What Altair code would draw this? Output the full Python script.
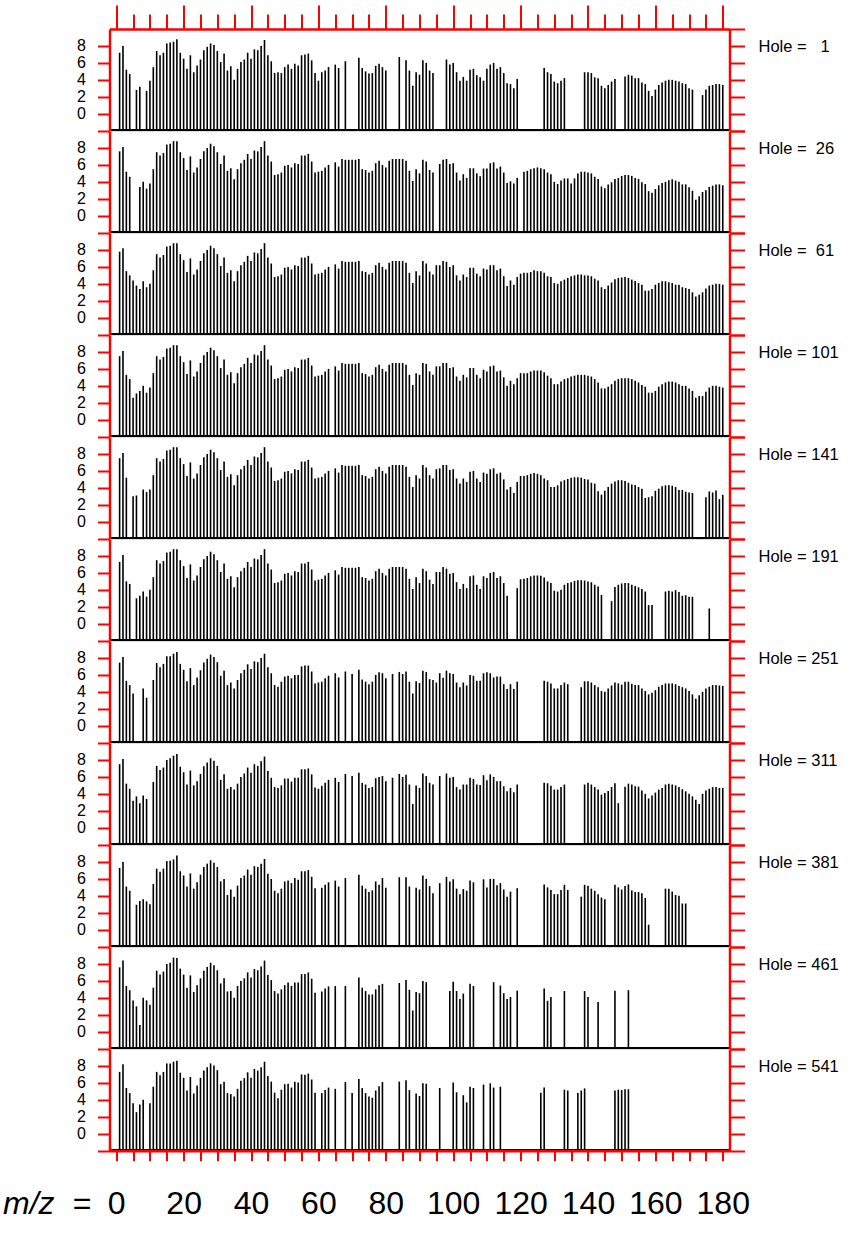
import altair as alt
import pandas as pd

RED = "#ff0000"
FONT = "Liberation Sans"

HOLES = [1, 26, 61, 101, 141, 191, 251, 311, 381, 461, 541]

# Each spectrum: list of runs (first m/z, [log intensity for consecutive m/z])
H101 = [
    (1, [7.5, 8.1, 5.3, 4.8, 2.6, 3.1, 3.4, 4.0, 3.2, 3.8,
         5.5, 7.5, 7.1, 7.4, 8.4, 8.5, 8.8, 8.8, 7.5, 6.8,
         5.4, 7.0, 5.1, 5.7, 6.7, 7.6, 8.0, 8.5, 8.2, 7.5,
         6.1, 7.1, 5.3, 5.6, 4.3, 5.5, 6.2, 6.6, 7.3, 6.7,
         7.7, 7.6, 8.1, 8.8, 7.1, 6.4, 4.8, 4.9, 5.1, 5.9,
         6.0, 5.7, 6.2, 6.1, 7.1, 7.1, 7.3, 6.4, 5.1, 5.2,
         5.3, 5.7, 6.0]),
    (65, [6.3, 5.8, 6.7, 6.6, 6.6, 6.6, 6.6, 6.7, 5.5, 5.4,
          5.1, 5.3, 6.2, 6.5, 6.0, 5.7, 6.5, 6.7, 6.7, 6.7,
          6.7, 6.5, 5.3, 4.1, 5.5, 5.3, 6.7, 6.6, 5.7, 5.3,
          6.3, 6.3, 6.7, 6.7, 6.1, 6.2, 5.1, 4.6, 5.3, 5.0,
          6.1, 6.1, 5.3, 4.9, 5.9, 5.7, 6.3, 6.4, 5.7, 5.8,
          5.0, 4.0, 4.6, 4.2, 4.9, 5.5, 5.5, 5.5, 5.7, 5.8,
          5.8, 5.8, 5.6, 5.2, 4.9, 4.2, 4.2, 4.5, 4.8, 4.9,
          5.1, 5.2, 5.3, 5.3, 5.3, 5.2, 5.1, 4.8, 4.4, 3.7,
          3.7, 3.9, 4.2, 4.6, 4.8, 4.9, 4.9, 4.9, 4.8, 4.6,
          4.4, 4.1, 3.9, 3.2, 3.2, 3.4, 3.9, 4.2, 4.4, 4.5,
          4.5, 4.4, 4.2, 4.0, 4.0, 3.7, 3.4, 2.6, 2.8, 2.8,
          3.3, 3.8, 4.0, 4.0, 3.9, 3.8]),
]

H1 = [
    (1, [7.2, 8.0, 5.2, 4.7]),
    (6, [2.8, 3.2]),
    (9, [2.7, 3.9, 5.5, 7.4, 6.9, 7.2, 8.3, 8.4, 8.5, 8.8,
         7.2, 6.5, 5.3, 6.9, 4.9, 5.7, 6.4, 7.5, 7.9, 8.3,
         8.1, 7.4, 6.1, 7.1, 5.1, 5.6, 4.0, 5.3, 6.1, 6.4,
         7.2, 6.5, 7.6, 7.5, 8.0, 8.7, 6.9, 6.2, 4.8, 4.9,
         4.8, 5.5, 5.8, 5.3, 5.9, 5.7, 6.9, 7.0, 7.1, 6.3,
         4.8, 3.9, 4.9, 5.1, 5.5]),
    (65, [5.8, 5.4]),
    (68, [6.2]),
    (72, [6.6, 5.4, 5.0, 4.75, 4.8, 5.65, 5.9, 5.5, 5.1]),
    (84, [6.7]),
    (86, [6.3, 5.1, 3.3, 4.9, 4.6, 6.3, 6.0, 5.1, 4.8]),
    (98, [6.4, 5.8, 6.0, 4.9, 3.9, 4.35, 3.9, 5.2, 5.3, 4.55,
          4.3, 3.9, 5.3, 5.8, 6.0, 5.3, 5.5, 4.8, 3.6, 3.5,
          3.0, 4.1]),
    (127, [5.4, 4.9, 4.7, 3.8, 3.6, 3.9, 4.2]),
    (139, [4.9, 4.9, 4.8, 4.3, 4.2, 3.3, 3.0, 3.4, 3.8, 4.1]),
    (151, [4.4, 4.6, 4.5, 4.2, 4.2, 3.7, 3.5, 2.7, 2.1, 2.85,
           3.4, 3.7, 3.9, 4.0, 4.0, 3.9, 3.8, 3.6, 3.5, 3.0, 2.85]),
    (174, [2.2, 2.85, 3.3, 3.4, 3.5, 3.5, 3.4]),
]

H26 = [
    (1, [7.6, 8.1, 5.2, 4.6]),
    (7, [3.4, 4.0, 3.2, 3.8, 5.5, 7.5, 7.1, 7.4, 8.4, 8.5,
         8.8, 8.8, 7.5, 6.8, 5.4, 7.0, 5.1, 5.7, 6.7, 7.6,
         8.0, 8.5, 8.2, 7.5, 6.1, 7.1, 5.3, 5.6, 4.3, 5.5,
         6.2, 6.6, 7.3, 6.7, 7.7, 7.6, 8.1, 8.8, 7.1, 6.4,
         4.8, 4.9, 5.1, 5.9, 6.0, 5.7, 6.2, 6.1, 7.1, 7.1,
         7.3, 6.4, 5.1, 5.2, 5.3, 5.7, 6.0]),
    (65, [6.3, 5.8, 6.7, 6.6, 6.6, 6.6, 6.6, 6.7, 5.5, 5.4,
          5.1, 5.3, 6.2, 6.5, 6.0, 5.7, 6.5, 6.7, 6.7, 6.7,
          6.7, 6.5, 5.3, 4.1, 5.5, 5.0, 6.6, 6.4, 5.4, 5.1]),
    (96, [6.1, 6.6, 6.7, 6.1, 6.2, 5.1, 4.15, 4.9, 4.47, 5.6,
          5.6, 5.0, 4.66, 5.57, 5.57, 6.2, 6.3, 5.57, 5.8, 5.1,
          3.87, 4.07, 3.8, 4.47]),
    (121, [5.2, 5.3, 5.5, 5.6, 5.7, 5.6, 5.5, 5.1, 4.9, 4.0,
           3.75, 4.15, 4.4, 4.4, 3.8, 4.4, 5.0, 5.2, 5.2, 5.1,
           5.0, 4.6, 4.35, 3.45, 3.25, 3.7, 3.95, 4.35, 4.45, 4.7,
           4.8, 4.8, 4.7, 4.45, 4.35, 3.95, 3.75, 2.9, 2.7, 3.15,
           3.6, 3.85, 4.0, 4.2, 4.3, 4.15, 4.0, 3.7, 3.7, 3.35,
           2.95, 1.9, 2.3, 2.8, 3.0, 3.4, 3.55, 3.7, 3.7, 3.6]),
]

H61 = [
    (1, [7.8, 8.2, 5.5, 5.0, 4.4, 3.8, 3.4, 4.3, 3.6, 4.0,
         5.6, 7.5, 7.1, 7.4, 8.4, 8.5, 8.8, 8.8, 7.5, 6.8,
         5.4, 7.0, 5.1, 5.7, 6.7, 7.6, 8.0, 8.5, 8.2, 7.5,
         6.1, 7.1, 5.3, 5.6, 4.3, 5.5, 6.2, 6.6, 7.3, 6.7,
         7.7, 7.6, 8.1, 8.8, 7.1, 6.4, 4.8, 4.9, 5.1, 5.9,
         6.0, 5.7, 6.2, 6.1, 7.1, 7.1, 7.3, 6.4, 5.1, 5.2,
         5.3, 5.7, 6.0]),
    (65, [6.3, 5.8, 6.7, 6.6, 6.6, 6.6, 6.6, 6.7, 5.5, 5.4,
          5.1, 5.3, 6.2, 6.5, 6.0, 5.7, 6.5, 6.7, 6.7, 6.7,
          6.7, 6.5, 5.3, 4.1, 5.5,
          5.0, 6.7, 6.4, 5.45, 5.1, 6.2, 6.2, 6.7, 6.6, 6.0,
          6.2, 5.0, 4.4, 5.1, 4.8, 5.9, 5.9, 5.2, 4.9, 5.8,
          5.7, 6.2, 6.2, 5.6, 5.8, 4.9, 3.75, 4.4, 3.9, 4.8,
          5.2, 5.3, 5.3, 5.4, 5.6, 5.5, 5.5, 5.3, 4.9, 4.8,
          4.1, 4.0, 4.3, 4.5, 4.7, 4.9, 5.0, 5.1, 5.1, 5.0,
          5.0, 4.9, 4.6, 4.4, 3.6, 3.4, 3.8, 4.15, 4.55, 4.7,
          4.75, 4.8, 4.7, 4.5, 4.35, 4.1, 3.9, 3.2, 3.2, 3.4,
          3.9, 4.1, 4.3, 4.3, 4.2, 4.1, 3.9, 3.9, 3.6, 3.5,
          3.4, 3.0, 2.5, 2.7, 3.0, 3.45, 3.8, 3.9, 4.0, 4.0,
          3.9]),
]

H141 = [
    (1, [7.5, 8.1, 5.2]),
    (5, [3.0, 3.1]),
    (8, [3.8, 3.5, 3.8, 5.5, 7.5, 7.1, 7.4, 8.4, 8.5, 8.8,
         8.8, 7.5, 6.8, 5.4, 7.0, 5.1, 5.7, 6.7, 7.6, 8.0,
         8.5, 8.2, 7.5, 6.1, 7.1, 5.3, 5.6, 4.3, 5.5, 6.2,
         6.6, 7.3, 6.7, 7.7, 7.6, 8.1, 8.8, 7.1, 6.4, 4.8,
         4.9, 5.1, 5.9, 6.0, 5.7, 6.2, 6.1, 7.1, 7.1, 7.3,
         6.4, 5.1, 5.2, 5.3, 5.7, 6.0]),
    (65, [6.3, 5.8, 6.7, 6.6, 6.6, 6.6, 6.6, 6.7, 5.5, 5.4,
          5.1, 5.3, 6.2, 6.5, 6.0, 5.7, 6.5, 6.7, 6.7, 6.7,
          6.7, 6.5, 5.3, 4.1, 5.5,
          5.1, 6.7, 6.4, 5.5, 5.1, 6.2, 6.3, 6.7, 6.7, 6.1,
          6.2, 5.1, 4.5, 5.1, 4.7, 5.9, 6.0, 5.1, 4.7, 5.8,
          5.65, 6.2, 6.3, 5.65, 5.8, 5.0, 3.8, 4.1, 3.4, 4.7,
          5.4, 5.4, 5.5, 5.65, 5.75, 5.65, 5.5, 5.1, 4.9,
          4.1, 4.1, 4.3, 4.75, 4.9, 5.05, 5.2, 5.25, 5.25, 5.2,
          5.05, 5.0, 4.6, 4.5, 3.6, 3.2, 3.65, 4.1, 4.5, 4.75,
          4.9, 4.9, 4.8, 4.6, 4.4, 4.35, 4.1, 3.9, 2.8, 2.9,
          3.0, 3.65, 3.9, 4.2, 4.3, 4.3, 4.25, 4.1, 3.75, 3.75,
          3.55, 3.45, 3.4]),
    (175, [2.9, 3.57, 3.45, 3.69, 2.67, 3.18]),
]

H191 = [
    (1, [7.3, 8.1, 5.0, 4.7]),
    (6, [3.0, 3.3, 3.8, 3.2, 4.0, 5.5, 7.5, 7.1, 7.4, 8.4,
         8.5, 8.8, 8.8, 7.5, 6.8, 5.4, 7.0, 5.1, 5.7, 6.7,
         7.6, 8.0, 8.5, 8.2, 7.5, 6.1, 7.1, 5.3, 5.6, 4.3,
         5.5, 6.2, 6.6, 7.3, 6.7, 7.7, 7.6, 8.1, 8.8, 7.1,
         6.4, 4.8, 4.9, 5.1, 5.9, 6.0, 5.7, 6.2, 6.1, 7.1,
         7.1, 7.3, 6.4, 5.1, 5.2, 5.3, 5.7, 6.0]),
    (65, [6.3, 5.8, 6.7, 6.6, 6.6, 6.6, 6.6, 6.7, 5.5, 5.4,
          5.1, 5.3, 6.2, 6.5, 6.0, 5.7, 6.5, 6.7, 6.7, 6.7,
          6.7, 6.5, 5.3, 4.1, 5.5,
          4.8, 6.5, 6.2, 5.2, 4.7, 6.1, 6.1, 6.7, 6.5, 5.9,
          6.0, 4.9, 4.1, 4.7, 4.2, 5.6, 5.7, 4.6, 4.1, 5.6,
          5.4, 6.0, 6.1, 5.4, 5.6, 4.8, 3.3]),
    (119, [4.2, 5.25, 5.3, 5.4, 5.6, 5.7, 5.7, 5.65, 5.45, 5.0,
           4.8, 3.9, 3.8, 4.0, 4.6, 4.8, 4.9, 5.06, 5.14, 5.14,
           5.1, 5.0, 4.9, 4.6, 4.4, 3.4]),
    (147, [2.67, 4.35, 4.6, 4.75, 4.8, 4.8, 4.6, 4.45, 4.3, 4.1,
           3.8, 2.2, 2.2]),
    (163, [3.8, 3.9, 3.8, 3.96, 3.76, 3.3, 3.37, 3.18, 3.18]),
    (176, [1.8]),
]

H251 = [
    (1, [7.45, 8.1, 5.3, 4.8, 3.8]),
    (8, [4.4, 3.3]),
    (11, [5.4, 7.4, 6.9, 7.3, 8.2, 8.2, 8.5, 8.7, 7.3, 6.6,
          5.25, 6.8, 4.8, 5.7, 6.55, 7.45, 7.9, 8.4, 8.1, 7.5,
          5.9, 6.5, 4.8, 5.1, 4.4, 5.4, 6.2, 6.6, 7.25, 6.7,
          7.6, 7.5, 8.0, 8.5, 6.9, 6.2, 4.8, 4.6, 5.2, 5.8,
          5.9, 5.6, 6.0, 6.0, 7.0, 7.1, 7.1, 6.4, 5.0, 5.1,
          5.2, 5.6, 5.9]),
    (65, [6.2, 5.7]),
    (68, [6.4]),
    (70, [6.1]),
    (72, [6.6, 5.45, 5.2, 4.9, 5.2, 6.0, 6.3, 6.2, 5.6]),
    (82, [6.1]),
    (84, [6.35, 6.1, 6.4, 5.2, 3.8, 5.25, 5.05, 6.5, 6.35, 5.5,
          5.4, 5.1, 6.2, 5.65, 6.5, 6.2, 6.1, 5.1, 4.55, 5.1,
          4.75, 6.0, 5.9, 5.3, 5.3, 6.2, 6.3, 6.2, 5.7, 5.8,
          5.8, 4.9, 4.35, 4.9, 4.35, 5.2]),
    (127, [5.3, 5.2, 5.0, 4.4, 4.4, 4.8, 5.1, 4.9]),
    (138, [4.55, 5.25, 5.25, 5.1, 4.8, 4.55, 4.1, 4.0, 4.4, 4.75,
           5.1, 5.0, 4.85, 5.2, 5.2, 4.95, 4.8, 4.8, 4.4, 4.1,
           3.7, 3.9, 4.2, 4.6, 4.8, 5.0, 5.0, 5.0, 4.9, 4.7,
           4.55, 4.4, 4.1, 3.7, 3.2, 3.6, 4.0, 4.4, 4.6, 4.8,
           4.8, 4.75, 4.7]),
]

H311 = [
    (1, [7.5, 8.1, 5.2, 4.6, 3.2, 3.7, 2.9, 3.8, 3.4]),
    (11, [5.4, 7.3, 6.8, 7.1, 8.0, 8.2, 8.5, 8.7, 7.2, 6.55,
          5.1, 6.75, 5.0, 5.5, 6.35, 7.25, 7.7, 8.2, 7.9, 7.3,
          5.65, 6.3, 4.6, 4.8, 4.5, 5.2, 6.0, 6.4, 7.1, 6.5,
          7.5, 7.3, 7.85, 8.4, 6.7, 5.9, 4.8, 4.7, 5.0, 5.8,
          5.8, 5.45, 5.9, 5.9, 6.9, 6.9, 7.0, 6.3, 4.75, 4.6,
          4.95, 5.3, 5.65]),
    (65, [5.9, 5.4]),
    (68, [6.35]),
    (70, [6.1]),
    (72, [6.5, 5.3, 5.1, 4.7, 4.8, 5.85, 6.0, 6.1, 5.5]),
    (82, [5.9]),
    (84, [6.35, 6.0, 6.25, 5.1, 2.8, 5.0, 4.7, 6.4, 6.1, 5.3, 5.1]),
    (96, [6.1]),
    (98, [6.4, 5.9, 6.0, 4.8, 4.5, 5.1, 5.1, 5.9, 5.75, 5.1,
          5.05, 6.2, 5.6, 6.3, 6.0, 5.5, 5.5, 4.9, 4.3, 4.7,
          4.2, 5.1]),
    (127, [5.3, 5.25, 4.95, 4.5, 4.5, 4.8, 5.1]),
    (139, [5.1, 5.3, 5.1, 4.8, 4.5, 3.9, 4.1, 4.35, 4.8, 5.25, 2.9]),
    (151, [4.85, 5.2, 5.1, 4.9, 4.85, 4.4, 4.0, 3.45, 3.8, 4.15,
           4.5, 4.7, 5.1, 5.2, 5.1, 5.0, 4.8, 4.55, 4.3, 4.0,
           3.7, 3.3, 2.8, 4.0, 4.4, 4.6, 4.8, 4.8, 4.7, 4.7]),
]

H381 = [
    (1, [7.3, 8.0, 5.1, 4.6]),
    (6, [2.95, 3.4, 3.6, 3.35, 3.0, 5.4, 7.2, 6.85, 7.2, 8.1,
         8.15, 8.3, 8.75, 6.9, 6.4, 5.1, 6.65, 4.85, 5.6, 6.5,
         7.4, 7.8, 8.2, 7.9, 7.4, 5.7, 6.0, 4.1, 4.75, 3.9,
         5.2, 6.1, 6.4, 7.1, 6.5, 7.5, 7.4, 7.8, 8.35, 6.6,
         6.0, 4.6, 4.3, 4.85, 5.7, 5.8, 5.5, 6.1, 5.9, 6.9,
         6.9, 7.05, 6.25, 4.9]),
    (61, [4.95, 5.3, 5.6]),
    (65, [5.8, 5.1]),
    (68, [6.1]),
    (72, [6.5, 5.2, 4.85, 4.45, 4.65, 5.7, 5.3, 6.1, 4.95]),
    (84, [6.2]),
    (86, [6.2, 5.1]),
    (89, [4.95, 4.75, 6.4, 6.0, 5.15, 4.3]),
    (96, [5.5]),
    (98, [6.25, 5.7, 5.95, 4.85, 4.2, 4.8, 4.6, 5.8, 5.6]),
    (109, [5.95, 5.0, 6.0, 6.0, 5.25, 5.5, 4.75, 3.9, 4.5]),
    (119, [4.9]),
    (127, [5.35, 5.0, 4.7, 4.2, 4.2, 4.7, 5.3, 4.7]),
    (138, [3.9, 5.3, 5.2, 4.85, 4.6, 4.2, 3.8, 3.6]),
    (148, [5.3, 5.0, 4.75, 5.15, 5.35, 4.65, 4.45, 4.45, 4.3, 3.75, 0.6]),
    (163, [4.85, 4.85, 4.5, 4.1, 4.0, 3.1, 3.1]),
]

H461 = [
    (1, [7.6, 8.4, 5.4, 4.9, 3.7, 3.0, 0.8, 4.0, 3.7, 3.2,
         5.2, 7.2, 6.75, 7.1, 8.0, 8.15, 8.75, 8.7, 7.45, 6.75,
         5.2, 6.65, 4.7, 5.5, 6.3, 7.2, 7.65, 8.15, 7.85, 7.25,
         5.7, 6.3, 4.75, 4.8, 4.0, 5.4, 6.0, 6.3, 7.0, 6.4,
         7.4, 7.25, 7.7, 8.4, 6.7, 6.1, 4.8, 4.5, 5.0, 5.5,
         5.8, 5.4, 5.8, 5.8, 6.8, 6.8, 7.0, 6.25, 4.6]),
    (61, [4.75, 5.1, 5.35]),
    (65, [5.4]),
    (68, [5.4]),
    (72, [6.4, 5.2, 4.8, 4.4, 4.4, 5.0, 5.5, 5.65]),
    (84, [5.75]),
    (86, [6.1, 4.95, 2.5, 4.7, 4.55, 6.0, 5.85]),
    (99, [4.8, 5.9, 4.8, 3.85, 4.5]),
    (105, [5.65, 5.4]),
    (112, [5.85]),
    (114, [5.45, 4.55, 3.85, 4.1]),
    (119, [4.85]),
    (127, [5.1, 3.65, 4.1]),
    (133, [4.8]),
    (139, [4.8, 4.1]),
    (143, [3.5]),
    (148, [4.85]),
    (152, [4.9]),
]

H541 = [
    (1, [7.3, 8.2, 5.4, 4.8, 3.6, 2.55, 3.45, 4.0]),
    (10, [3.6, 5.55, 7.3, 6.9, 7.3, 8.3, 8.3, 8.5, 8.6, 7.2,
          6.6, 5.1, 6.7, 4.75, 5.7, 6.6, 7.45, 7.85, 8.3, 8.05,
          7.5, 5.85, 6.15, 4.8, 4.7, 4.4, 5.3, 6.25, 6.55, 7.25,
          6.6, 7.65, 7.45, 7.85, 8.5, 6.8, 6.15, 4.85, 4.2, 5.2,
          5.85, 5.9, 5.45, 6.15, 6.05, 7.0, 6.95, 7.1, 6.4, 4.85]),
    (61, [4.8, 5.15, 5.45]),
    (65, [5.3]),
    (68, [6.1]),
    (70, [4.8]),
    (72, [6.45, 5.4, 4.8, 4.4, 4.25, 5.1, 5.6, 6.1]),
    (84, [6.15]),
    (86, [6.3, 5.15]),
    (89, [4.75, 4.45, 5.95, 5.9]),
    (96, [5.4]),
    (100, [6.05, 4.9]),
    (103, [4.55, 3.7, 5.55, 5.4]),
    (109, [5.8]),
    (111, [5.95, 5.45]),
    (114, [5.55]),
    (126, [4.85, 5.45]),
    (133, [5.2, 5.1]),
    (137, [4.8, 5.1, 5.35]),
    (148, [5.1, 5.2, 5.15, 5.25, 5.25]),
]

SPECTRA = [H1, H26, H61, H101, H141, H191, H251, H311, H381, H461, H541]

X_DOMAIN = [-2, 182]
Y_DOMAIN = [-2, 10]
W, H = 620, 101.7


def to_frame(runs):
    mz, val = [], []
    for start, vals in runs:
        for i, v in enumerate(vals):
            mz.append(start + i)
            val.append(v)
    return pd.DataFrame({"mz": mz, "value": val})


def xs():
    return alt.Scale(domain=X_DOMAIN, nice=False, zero=False)


def ys():
    return alt.Scale(domain=Y_DOMAIN, nice=False, zero=False)


TICKS5 = list(range(0, 181, 5))


def panel(i, hole, runs):
    d = to_frame(runs)
    first = i == 0
    last = i == len(HOLES) - 1
    if first:
        xaxis = alt.Axis(orient="top", values=TICKS5, labels=False, title=None,
                         grid=False, tickColor=RED, tickWidth=2,
                         tickSize={"condition": {"test": "datum.value % 20 === 0", "value": 24},
                                   "value": 15},
                         domainColor=RED, domainWidth=2.5, zindex=1)
    elif last:
        xaxis = alt.Axis(orient="bottom", values=TICKS5,
                         labelExpr="datum.value % 20 === 0 ? datum.label : ''",
                         labelFont=FONT, labelFontSize=32, labelColor="black",
                         labelFlush=False, labelOverlap=False,
                         labelBaseline="middle", labelPadding=43,
                         grid=False, tickColor=RED, tickWidth=2, tickSize=10,
                         domainColor=RED, domainWidth=2.5,
                         title="m/z\u00a0\u00a0=", titleFont=FONT, titleFontSize=32,
                         titleFontStyle="italic", titleFontWeight="normal",
                         titleColor="black", titleAlign="left", titleAngle=0,
                         titleBaseline="middle", titleX=-107, titleY=53,
                         zindex=1)
    else:
        xaxis = None

    left_axis = alt.Axis(orient="left", values=[-2, 0, 2, 4, 6, 8],
                         labelExpr="datum.value < 0 ? '' : datum.label",
                         labelFont=FONT, labelFontSize=16, labelColor="black",
                         labelPadding=12, labelBaseline="middle",
                         tickColor=RED, tickWidth=2, tickSize=12,
                         domainColor=RED, domainWidth=2.5, grid=False,
                         title=None, zindex=1)
    right_axis = alt.Axis(orient="right", values=[-2, 0, 2, 4, 6, 8, 10],
                          labels=False, tickColor=RED, tickWidth=2, tickSize=15,
                          domainColor=RED, domainWidth=2.5, grid=False,
                          title=None, zindex=1)

    base_line = alt.Chart(d).mark_rule(color="black", strokeWidth=2.5).encode(
        y=alt.YDatum(-2, scale=ys(), axis=None)
    )
    bars = alt.Chart(d).mark_rule(color="black", strokeWidth=1.6).encode(
        x=alt.X("mz:Q", scale=xs(), axis=xaxis),
        y=alt.Y("value:Q", scale=ys(), axis=left_axis),
        y2=alt.datum(-2),
    )
    label_text = ("Hole = " + f"{hole:>3}").replace(" ", "\u00a0")
    label = alt.Chart(pd.DataFrame({"t": [label_text]})).mark_text(
        align="left", baseline="middle", font=FONT, fontSize=16.5, color="black"
    ).encode(
        x=alt.value(649),
        y=alt.YDatum(7.9, scale=ys(), axis=right_axis),
        text="t:N",
    )
    return alt.layer(base_line, bars, label).resolve_scale(y="independent").properties(
        width=W, height=H
    )


panels = [panel(i, h, r) for i, (h, r) in enumerate(zip(HOLES, SPECTRA))]

chart = alt.vconcat(*panels, spacing=0).properties(
    bounds="flush",
    padding={"left": 1.5, "top": 3, "right": 2, "bottom": 2},
).configure_view(stroke=None).configure(background="white")

chart.save("out.html", embed_options={"renderer": "svg", "actions": False})
